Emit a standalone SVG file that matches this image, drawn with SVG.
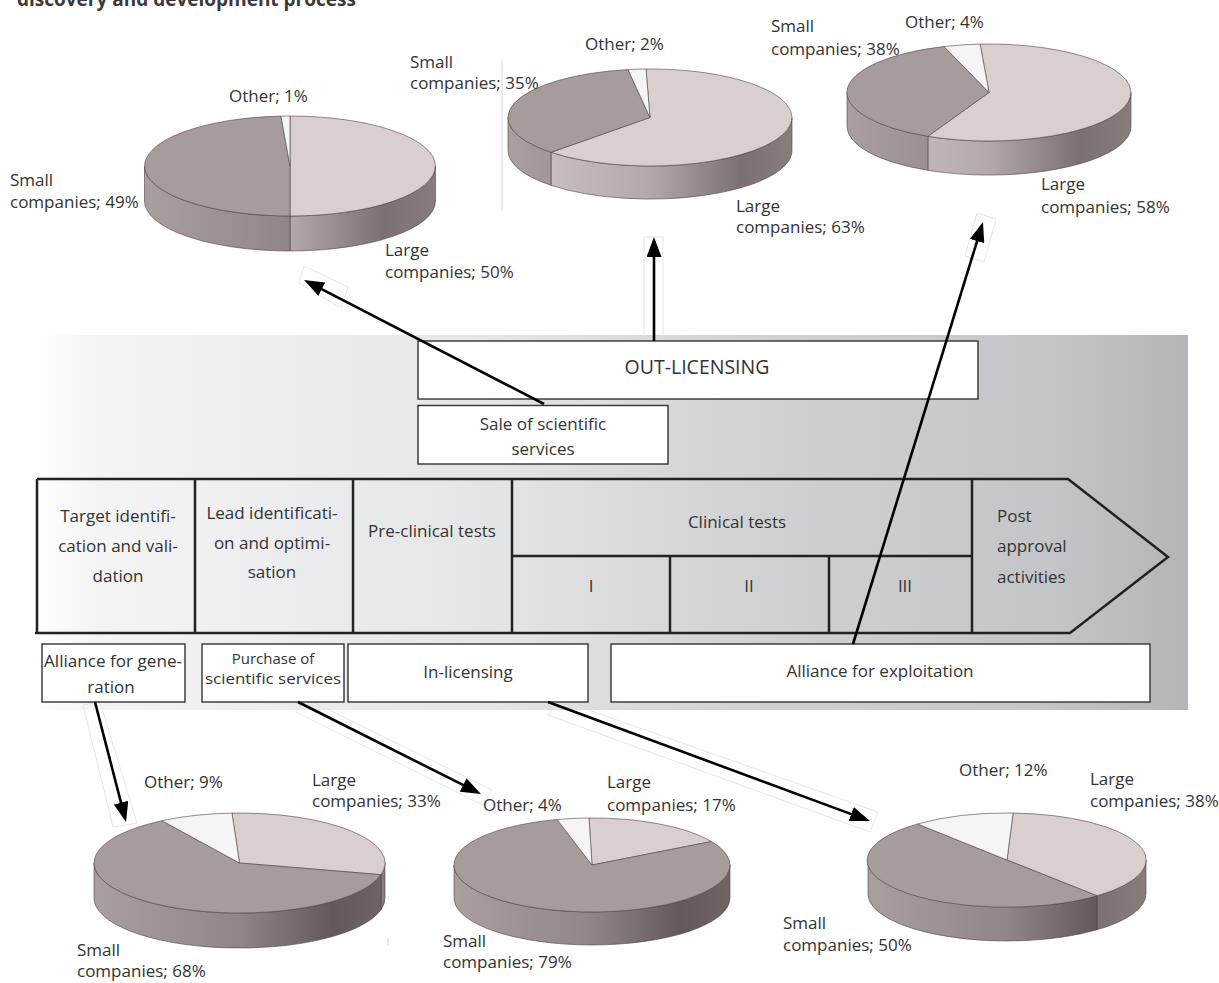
<svg xmlns="http://www.w3.org/2000/svg" width="1219" height="983" viewBox="0 0 1219 983">
<defs>
<linearGradient id="panelG" gradientUnits="userSpaceOnUse" x1="30" y1="0" x2="1188" y2="0">
<stop offset="0" stop-color="#ffffff"/>
<stop offset="0.06" stop-color="#f4f4f5"/>
<stop offset="0.4" stop-color="#e4e5e7"/>
<stop offset="0.62" stop-color="#d1d2d4"/>
<stop offset="0.88" stop-color="#c4c5c8"/>
<stop offset="1" stop-color="#b4b5b8"/>
</linearGradient>
<linearGradient id="gS" gradientUnits="userSpaceOnUse">
<stop offset="0" stop-color="#a99f9e"/>
<stop offset="0.5" stop-color="#908685"/>
<stop offset="0.82" stop-color="#625958"/>
<stop offset="1" stop-color="#6e6564"/>
</linearGradient>
<linearGradient id="gL" gradientUnits="userSpaceOnUse">
<stop offset="0" stop-color="#d0c6c5"/>
<stop offset="0.5" stop-color="#b3a9a8"/>
<stop offset="0.82" stop-color="#7b7170"/>
<stop offset="1" stop-color="#877d7c"/>
</linearGradient>
<linearGradient id="s1" href="#gS" x1="144.5" y1="0" x2="435.5" y2="0"/>
<linearGradient id="l1" href="#gL" x1="144.5" y1="0" x2="435.5" y2="0"/>
<linearGradient id="s2" href="#gS" x1="508" y1="0" x2="792" y2="0"/>
<linearGradient id="l2" href="#gL" x1="508" y1="0" x2="792" y2="0"/>
<linearGradient id="s3" href="#gS" x1="847" y1="0" x2="1131" y2="0"/>
<linearGradient id="l3" href="#gL" x1="847" y1="0" x2="1131" y2="0"/>
<linearGradient id="s4" href="#gS" x1="94" y1="0" x2="385" y2="0"/>
<linearGradient id="l4" href="#gL" x1="94" y1="0" x2="385" y2="0"/>
<linearGradient id="s5" href="#gS" x1="454" y1="0" x2="730" y2="0"/>
<linearGradient id="s6" href="#gS" x1="868" y1="0" x2="1146" y2="0"/>
<linearGradient id="l6" href="#gL" x1="868" y1="0" x2="1146" y2="0"/>
<marker id="ah" viewBox="0 0 20 15" refX="16" refY="7.5" markerWidth="20" markerHeight="15" markerUnits="userSpaceOnUse" orient="auto">
<path d="M0,0 L20,7.5 L0,15 Z" fill="#000"/>
</marker>
<style>
text{font-family:"Open Sans","Liberation Sans",sans-serif;fill:#333;}
.lbl{font-size:17px;}
.ptxt{font-size:17px;}
.mid{text-anchor:middle;}
.box{fill:#fff;stroke:#333;stroke-width:1.4;}
.bar{fill:none;stroke:#222;stroke-width:2.5;stroke-linejoin:miter;}
.pe{stroke:#4d4342;stroke-width:0.6;stroke-linejoin:round;}
.tS{fill:#a69c9b;}
.tL{fill:#d8cfce;}
.tO{fill:#f6f4f5;}
.conn{stroke:#000;stroke-width:2.6;fill:none;marker-end:url(#ah);}
.ghost{fill:none;stroke:#e0e0e0;stroke-width:0.8;}
</style>
</defs>
<rect width="1219" height="983" fill="#fff"/>

<text x="17" y="6" style="font-size:19px;font-weight:700;fill:#3a3a3a">discovery and development process</text>

<g id="panel">
<rect x="30" y="335" width="1158" height="375" fill="url(#panelG)"/>
</g>

<g id="artifacts">
<line x1="502" y1="60" x2="502" y2="211" stroke="#c6cbd6" stroke-width="0.8"/>
<line x1="388" y1="938" x2="388" y2="945" stroke="#d0d0d0" stroke-width="1"/>
<polygon class="ghost" points="304,266 348,287 341,308 299,283"/>
<polygon class="ghost" points="644,237 663,237 663,338 644,338"/>
<polygon class="ghost" points="977,213 996,219 984,262 965,256"/>
<polygon class="ghost" points="83,705 100,702 137,823 113,827"/>
<polygon class="ghost" points="296,712 305,698 492,790 483,805"/>
<polygon class="ghost" points="548,715 560,700 878,812 870,832"/>
</g>

<g id="process-bar">
<path class="bar" d="M37,479 L1068,479 L1168,557 L1070,633 L35,633"/>
<line class="bar" x1="37" y1="479" x2="37" y2="633"/>
<line class="bar" x1="195" y1="479" x2="195" y2="633"/>
<line class="bar" x1="353" y1="479" x2="353" y2="633"/>
<line class="bar" x1="512" y1="479" x2="512" y2="633"/>
<line class="bar" x1="972" y1="479" x2="972" y2="633"/>
<line class="bar" x1="512" y1="556" x2="972" y2="556"/>
<line class="bar" x1="670" y1="556" x2="670" y2="633"/>
<line class="bar" x1="829" y1="556" x2="829" y2="633"/>
</g>
<g id="stage-target">
<text class="ptxt mid" x="118" y="522">Target identifi-</text>
<text class="ptxt mid" x="118" y="552">cation and vali-</text>
<text class="ptxt mid" x="118" y="582">dation</text>
</g>
<g id="stage-lead">
<text class="ptxt mid" x="272" y="519">Lead identificati-</text>
<text class="ptxt mid" x="272" y="549">on and optimi-</text>
<text class="ptxt mid" x="272" y="578">sation</text>
</g>
<g id="stage-preclinical">
<text class="ptxt mid" x="432" y="537">Pre-clinical tests</text>
</g>
<g id="stage-clinical">
<text class="ptxt mid" x="737" y="528">Clinical tests</text>
</g>
<g id="phase-1"><text class="ptxt mid" x="591" y="592">I</text></g>
<g id="phase-2"><text class="ptxt mid" x="749" y="592">II</text></g>
<g id="phase-3"><text class="ptxt mid" x="905" y="592">III</text></g>
<g id="stage-post">
<text class="ptxt" x="997" y="522">Post</text>
<text class="ptxt" x="997" y="552">approval</text>
<text class="ptxt" x="997" y="583">activities</text>
</g>

<g id="out-licensing">
<rect class="box" x="418" y="341" width="560" height="58"/>
<text class="mid" x="697" y="374" style="font-size:19.5px">OUT-LICENSING</text>
</g>
<g id="sale-services">
<rect class="box" x="418" y="405.5" width="250" height="58.5"/>
<text class="ptxt mid" x="543" y="430">Sale of scientific</text>
<text class="ptxt mid" x="543" y="455">services</text>
</g>
<g id="alliance-generation">
<rect class="box" x="42" y="644" width="143" height="58"/>
<text class="ptxt mid" x="113" y="667" textLength="138" lengthAdjust="spacingAndGlyphs">Alliance for gene-</text>
<text class="ptxt mid" x="111" y="693">ration</text>
</g>
<g id="purchase-services">
<rect class="box" x="202" y="644" width="142" height="58"/>
<text class="mid" x="273" y="664" style="font-size:15px">Purchase of</text>
<text class="mid" x="273" y="684" style="font-size:15px" textLength="136" lengthAdjust="spacingAndGlyphs">scientific services</text>
</g>
<g id="in-licensing">
<rect class="box" x="348" y="644" width="240" height="58"/>
<text class="ptxt mid" x="468" y="678">In-licensing</text>
</g>
<g id="alliance-exploitation">
<rect class="box" x="611" y="644" width="539" height="58"/>
<text class="ptxt mid" x="880" y="677">Alliance for exploitation</text>
</g>

<g id="pie-sale">
<path class="pe" fill="url(#l1)" d="M435.5,166 A145.5,50 0 0 1 290,216 L290,251 A145.5,50 0 0 0 435.5,201 Z"/>
<path class="pe" fill="url(#s1)" d="M290,216 A145.5,50 0 0 1 144.5,166 L144.5,201 A145.5,50 0 0 0 290,251 Z"/>
<path class="pe tL" d="M290,166 L290,116 A145.5,50 0 0 1 290,216 Z"/>
<path class="pe tS" d="M290,166 L290,216 A145.5,50 0 0 1 280.9,116.1 Z"/>
<path class="pe tO" d="M290,166 L280.9,116.1 A145.5,50 0 0 1 290,116 Z"/>
<text class="lbl" x="229" y="102">Other; 1%</text>
<text class="lbl" x="10" y="186">Small</text>
<text class="lbl" x="10" y="208">companies; 49%</text>
<text class="lbl" x="385" y="256">Large</text>
<text class="lbl" x="385" y="278">companies; 50%</text>
</g>

<g id="pie-out">
<path class="pe" fill="url(#l2)" d="M792,117.5 A142,48.5 0 0 1 551,152.3 L551,185.3 A142,48.5 0 0 0 792,150.5 Z"/>
<path class="pe" fill="url(#s2)" d="M551,152.3 A142,48.5 0 0 1 508,117.5 L508,150.5 A142,48.5 0 0 0 551,185.3 Z"/>
<path class="pe tL" d="M650,117.5 L646,69 A142,48.5 0 1 1 551,152.3 Z"/>
<path class="pe tS" d="M650,117.5 L551,152.3 A142,48.5 0 0 1 628,69.6 Z"/>
<path class="pe tO" d="M650,117.5 L628,69.6 A142,48.5 0 0 1 646,69 Z"/>
<text class="lbl" x="585" y="50">Other; 2%</text>
<text class="lbl" x="410" y="68">Small</text>
<text class="lbl" x="410" y="89">companies; 35%</text>
<text class="lbl" x="736" y="212">Large</text>
<text class="lbl" x="736" y="233">companies; 63%</text>
</g>

<g id="pie-exploitation">
<path class="pe" fill="url(#l3)" d="M1131,92.5 A142,48.5 0 0 1 927.9,136.3 L927.9,170.3 A142,48.5 0 0 0 1131,126.5 Z"/>
<path class="pe" fill="url(#s3)" d="M927.9,136.3 A142,48.5 0 0 1 847,92.5 L847,126.5 A142,48.5 0 0 0 927.9,170.3 Z"/>
<path class="pe tL" d="M989,92.5 L980.1,44.1 A142,48.5 0 1 1 927.9,136.3 Z"/>
<path class="pe tS" d="M989,92.5 L927.9,136.3 A142,48.5 0 0 1 944,46.5 Z"/>
<path class="pe tO" d="M989,92.5 L944,46.5 A142,48.5 0 0 1 980.1,44.1 Z"/>
<text class="lbl" x="771" y="32">Small</text>
<text class="lbl" x="771" y="55">companies; 38%</text>
<text class="lbl" x="905" y="28">Other; 4%</text>
<text class="lbl" x="1041" y="190">Large</text>
<text class="lbl" x="1041" y="213">companies; 58%</text>
</g>

<g id="pie-generation">
<path class="pe" fill="url(#l4)" d="M385,863 A145.5,50 0 0 1 381,874.7 L381,909.7 A145.5,50 0 0 0 385,898 Z"/>
<path class="pe" fill="url(#s4)" d="M381,874.7 A145.5,50 0 0 1 94,863 L94,898 A145.5,50 0 0 0 381,909.7 Z"/>
<path class="pe tL" d="M239.5,863 L232,813.1 A145.5,50 0 0 1 381,874.7 Z"/>
<path class="pe tS" d="M239.5,863 L381,874.7 A145.5,50 0 1 1 162,820.7 Z"/>
<path class="pe tO" d="M239.5,863 L162,820.7 A145.5,50 0 0 1 232,813.1 Z"/>
<text class="lbl" x="144" y="788">Other; 9%</text>
<text class="lbl" x="312" y="786">Large</text>
<text class="lbl" x="312" y="807">companies; 33%</text>
<text class="lbl" x="77" y="956">Small</text>
<text class="lbl" x="77" y="977">companies; 68%</text>
</g>

<g id="pie-purchase">
<path class="pe" fill="url(#s5)" d="M730,865 A138,47 0 0 1 454,865 L454,898 A138,47 0 0 0 730,898 Z"/>
<path class="pe tL" d="M592,865 L589,818 A138,47 0 0 1 711.5,841.5 Z"/>
<path class="pe tS" d="M592,865 L711.5,841.5 A138,47 0 1 1 557,819.5 Z"/>
<path class="pe tO" d="M592,865 L557,819.5 A138,47 0 0 1 589,818 Z"/>
<text class="lbl" x="483" y="811">Other; 4%</text>
<text class="lbl" x="607" y="788">Large</text>
<text class="lbl" x="607" y="811">companies; 17%</text>
<text class="lbl" x="443" y="947">Small</text>
<text class="lbl" x="443" y="968">companies; 79%</text>
</g>

<g id="pie-inlicensing">
<path class="pe" fill="url(#l6)" d="M1146,860 A139,47 0 0 1 1097,895.8 L1097,929.8 A139,47 0 0 0 1146,894 Z"/>
<path class="pe" fill="url(#s6)" d="M1097,895.8 A139,47 0 0 1 868,860 L868,894 A139,47 0 0 0 1097,929.8 Z"/>
<path class="pe tL" d="M1007,860 L1013.1,813 A139,47 0 0 1 1097,895.8 Z"/>
<path class="pe tS" d="M1007,860 L1097,895.8 A139,47 0 1 1 917.6,824 Z"/>
<path class="pe tO" d="M1007,860 L917.6,824 A139,47 0 0 1 1013.1,813 Z"/>
<text class="lbl" x="959" y="776">Other; 12%</text>
<text class="lbl" x="1090" y="785">Large</text>
<text class="lbl" x="1090" y="807">companies; 38%</text>
<text class="lbl" x="783" y="929">Small</text>
<text class="lbl" x="783" y="951">companies; 50%</text>
</g>

<g id="connectors">
<line class="conn" x1="544" y1="404" x2="307.6" y2="281.8"/>
<line class="conn" x1="654" y1="341" x2="654" y2="241"/>
<line class="conn" x1="853" y1="644" x2="981.8" y2="225.8"/>
<line class="conn" x1="95" y1="702" x2="125" y2="818.1"/>
<line class="conn" x1="298" y1="702" x2="477.4" y2="792.2"/>
<line class="conn" x1="548" y1="702" x2="866.2" y2="819.6"/>
</g>
</svg>
